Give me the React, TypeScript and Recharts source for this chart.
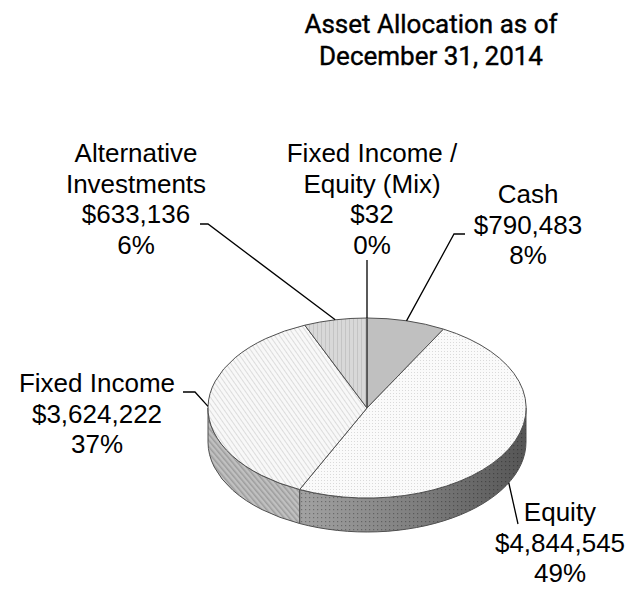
import { PieChart, Pie } from "recharts";

const CATEGORIES = [
  "Cash",
  "Equity",
  "Fixed Income",
  "Alternative\nInvestments",
  "Fixed Income /\nEquity (Mix)",
];
const VALUES = [790483, 4844545, 3624222, 633136, 32];
const TITLE_LINES = ["Asset Allocation as of", "December 31, 2014"];

const data = CATEGORIES.map((name, i) => ({ name, value: VALUES[i] }));

const TILT = 0.566; // ry / rx of the tilted pie
const DEPTH = 34;
const LABEL_FONT = "'Liberation Sans', Arial, sans-serif";
const LINE_H = 30.7;

const TOP_FILL = ["#c0c0c0", "url(#eqTop)", "url(#fiTop)", "url(#altTop)", "#d0d0d0"];
const SIDE_FILL = ["#8c8c8c", "url(#eqSideGrad)", "url(#fiSide)", "#b0b0b0", "#b0b0b0"];
const SIDE_OVERLAY = [null, "url(#eqSideDots)", null, null, null];

// label placement as offsets from the pie centre
const LABEL_POS = [
  { dx: 161, dy: -205, elbow: [87, -174], end: [98, -174], front: false },
  { dx: 193, dy: 113, elbow: null, end: [151, 116], front: true },
  { dx: -270, dy: -16, elbow: [-172, -16], end: [-184, -16], front: false },
  { dx: -231, dy: -246, elbow: [-159, -184], end: [-167, -184], front: false },
  { dx: 5, dy: -246, elbow: null, end: [0, -148], front: false },
];

function renderSlice(props: any) {
  const { cx, cy, outerRadius, startAngle, endAngle, midAngle, percent, value, name, index } = props;
  const rx = outerRadius;
  const ry = outerRadius * TILT;
  const p = (deg: number, dy = 0) => {
    const r = (deg * Math.PI) / 180;
    return [cx + rx * Math.cos(r), cy - ry * Math.sin(r) + dy];
  };
  const f = (a: number[]) => `${a[0].toFixed(2)},${a[1].toFixed(2)}`;

  const s0 = p(startAngle);
  const e0 = p(endAngle);
  const large = Math.abs(startAngle - endAngle) > 180 ? 1 : 0;
  const top = `M${cx},${cy} L${f(s0)} A${rx},${ry} 0 ${large} 1 ${f(e0)} Z`;

  // visible front wall
  const s = Math.min(startAngle, 0);
  const e = Math.max(endAngle, -180);
  let side: string | null = null;
  if (s - e > 0.01) {
    side =
      `M${f(p(s))} A${rx},${ry} 0 0 1 ${f(p(e))} ` +
      `L${f(p(e, DEPTH))} A${rx},${ry} 0 0 0 ${f(p(s, DEPTH))} Z`;
  }

  const lp = LABEL_POS[index];
  const start = p(midAngle, lp.front ? DEPTH : 0);
  const pts = [start];
  if (lp.elbow) pts.push([cx + lp.elbow[0], cy + lp.elbow[1]]);
  pts.push([cx + lp.end[0], cy + lp.end[1]]);

  const lines = [
    ...String(name).split("\n"),
    "$" + Number(value).toLocaleString("en-US"),
    Math.round(percent * 100) + "%",
  ];

  return (
    <g key={`slice-${index}`}>
      {side && <path d={side} fill={SIDE_FILL[index]} stroke="none" />}
      {side && SIDE_OVERLAY[index] && <path d={side} fill={SIDE_OVERLAY[index] as string} stroke="none" />}
      {side && <path d={side} fill="none" stroke="#505050" strokeWidth={1} />}
      <path d={top} fill={TOP_FILL[index]} stroke="#505050" strokeWidth={1} strokeLinejoin="round" />
      <polyline points={pts.map(f).join(" ")} fill="none" stroke="#000" strokeWidth={1.3} />
      <text
        x={cx + lp.dx}
        y={cy + lp.dy}
        textAnchor="middle"
        fontFamily={LABEL_FONT}
        fontSize={26}
        fill="#000"
      >
        {lines.map((t, i) => (
          <tspan key={i} x={cx + lp.dx} y={cy + lp.dy + i * LINE_H}>
            {t}
          </tspan>
        ))}
      </text>
    </g>
  );
}

export default function App() {
  return (
    <div style={{ position: "absolute", left: 0, top: 0, background: "#fff" }}>
      <PieChart width={628} height={589}>
        <defs>
          <pattern id="eqTop" width="3" height="3" patternUnits="userSpaceOnUse">
            <rect width="3" height="3" fill="#fafafa" />
            <rect width="1" height="1" fill="#dadada" />
          </pattern>
          <pattern id="fiTop" width="4" height="4" patternUnits="userSpaceOnUse" patternTransform="rotate(-35)">
            <rect width="4" height="4" fill="#f8f8f8" />
            <rect width="1" height="4" fill="#dcdcdc" />
          </pattern>
          <pattern id="altTop" width="4" height="4" patternUnits="userSpaceOnUse">
            <rect width="4" height="4" fill="#d8d8d8" />
            <rect x="1" width="1" height="4" fill="#c4c4c4" />
          </pattern>
          <pattern id="fiSide" width="4" height="4" patternUnits="userSpaceOnUse" patternTransform="rotate(-40)">
            <rect width="4" height="4" fill="#c0c0c0" />
            <rect width="1.5" height="4" fill="#9c9c9c" />
          </pattern>
          <linearGradient id="eqSideGrad" x1="0" y1="0" x2="1" y2="0">
            <stop offset="0" stopColor="#a2a2a2" />
            <stop offset="0.55" stopColor="#7c7c7c" />
            <stop offset="1" stopColor="#555555" />
          </linearGradient>
          <pattern id="eqSideDots" width="4" height="4" patternUnits="userSpaceOnUse">
            <rect x="1" y="1" width="1.2" height="1.2" fill="rgba(0,0,0,0.3)" />
          </pattern>
        </defs>
        <text
          textAnchor="middle"
          fontFamily="Roboto, 'Liberation Sans', sans-serif"
          fontSize={26}
          fill="#000"
          stroke="#000"
          strokeWidth={0.4}
        >
          {TITLE_LINES.map((t, i) => (
            <tspan key={i} x={431} y={33 + i * 32}>
              {t}
            </tspan>
          ))}
        </text>
        <Pie
          data={data}
          dataKey="value"
          nameKey="name"
          cx={362}
          cy={403}
          outerRadius={159}
          startAngle={90}
          endAngle={-270}
          fill="transparent"
          stroke="none"
          labelLine={false}
          label={renderSlice}
          isAnimationActive={false}
        />
      </PieChart>
    </div>
  );
}
